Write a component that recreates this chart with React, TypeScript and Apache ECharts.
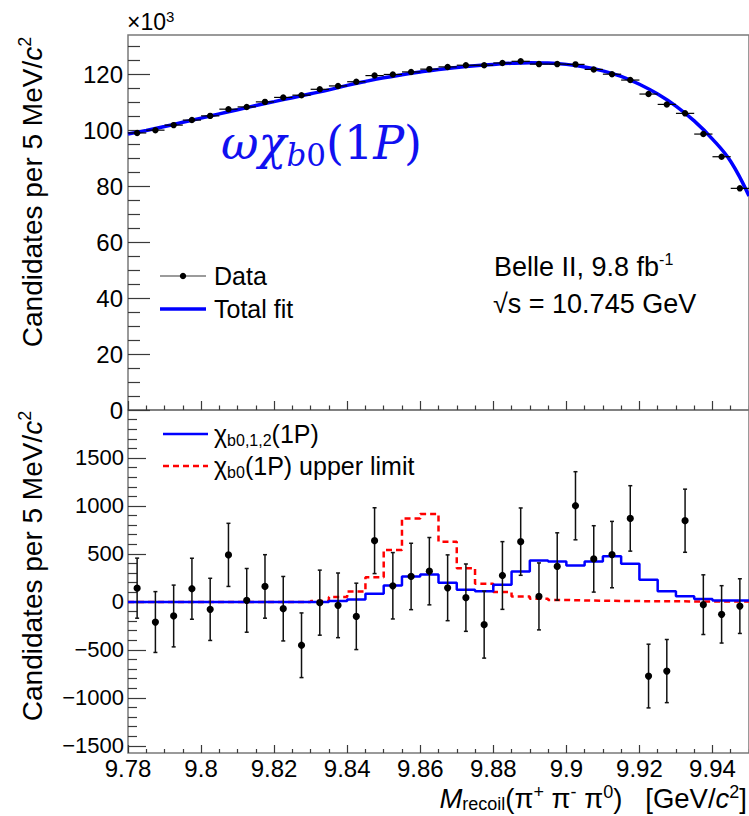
import React, { useEffect, useRef } from "react";
import * as echarts from "echarts";

// ---------- data ----------
const BIN_CENTERS = [
  9.7825, 9.7875, 9.7925, 9.7975, 9.8025, 9.8075, 9.8125, 9.8175, 9.8225, 9.8275,
  9.8325, 9.8375, 9.8425, 9.8475, 9.8525, 9.8575, 9.8625, 9.8675, 9.8725, 9.8775,
  9.8825, 9.8875, 9.8925, 9.8975, 9.9025, 9.9075, 9.9125, 9.9175, 9.9225, 9.9275,
  9.9325, 9.9375, 9.9425, 9.9475,
];
const BIN_EDGES = [
  9.78, 9.785, 9.79, 9.795, 9.8, 9.805, 9.81, 9.815, 9.82, 9.825, 9.83, 9.835, 9.84,
  9.845, 9.85, 9.855, 9.86, 9.865, 9.87, 9.875, 9.88, 9.885, 9.89, 9.895, 9.9, 9.905,
  9.91, 9.915, 9.92, 9.925, 9.93, 9.935, 9.94, 9.945, 9.95,
];
const HALF_BIN = 0.0025;

// top panel: candidates (x10^3)
const TOP_DATA = [
  99.0, 100.0, 101.8, 103.6, 105.1, 107.5, 108.3, 110.1, 111.7, 112.5, 114.6, 115.8,
  117.3, 119.5, 119.9, 120.8, 121.8, 122.6, 123.2, 123.2, 124.0, 124.6, 123.6, 123.6,
  123.5, 121.7, 120.0, 117.9, 112.9, 109.2, 106.0, 98.6, 90.5, 79.2,
];
// total fit sampled at bin edges (x10^3)
const FIT_Y = [
  98.6, 99.9, 101.3, 102.8, 104.3, 105.8, 107.3, 108.8, 110.2, 111.6, 113.0, 114.4,
  116.0, 117.4, 118.7, 119.8, 120.8, 121.7, 122.4, 123.0, 123.5, 123.9, 124.1, 124.0,
  123.5, 122.6, 121.2, 119.2, 116.4, 112.9, 108.6, 103.3, 96.8, 88.8, 76.5,
];

// bottom panel: background-subtracted candidates
const BOT_DATA = [
  143, -210, -147, 137, -78, 490, 16, 161, -71, -452, -8, -36, -151, 638, 168, 265,
  320, 147, 44, -237, 275, 628, 57, 369, 1002, 448, 493, 870, -773, -721, 846, -29,
  -130, -44,
];
const BOT_ERR = [
  313, 317, 322, 318, 324, 329, 332, 331, 336, 337, 339, 337, 346, 343, 346, 346, 351,
  343, 351, 349, 353, 351, 349, 351, 355, 346, 346, 341, 332, 329, 329, 311, 299, 285,
];
// chi_b0,1,2(1P) histogram (per bin)
const BLUE_HIST = [
  0, 0, 0, 0, 0, 0, 0, 0, 0, 0, 0, 10, 25, 85, 171, 265, 285, 199, 127, 112, 179, 317,
  431, 421, 379, 421, 475, 397, 230, 112, 60, 30, 15, 15,
];
// chi_b0(1P) upper limit histogram (per bin)
const RED_HIST = [
  0, 0, 0, 0, 0, 0, 0, 0, 0, 0, 10, 50, 109, 257, 542, 870, 916, 628, 351, 189, 102,
  57, 33, 20, 15, 12, 10, 8, 7, 6, 5, 5, 4, 4,
];

// ticks
const X_MAJOR = [9.78, 9.8, 9.82, 9.84, 9.86, 9.88, 9.9, 9.92, 9.94];
const TOP_Y_MAJOR = [0, 20, 40, 60, 80, 100, 120];
const TOP_Y_MINOR = [5, 10, 15, 25, 30, 35, 45, 50, 55, 65, 70, 75, 85, 90, 95, 105, 110, 115, 125, 130];
const BOT_Y_MAJOR = [-1500, -1000, -500, 0, 500, 1000, 1500];
const BOT_Y_MINOR = [
  -1400, -1300, -1200, -1100, -900, -800, -700, -600, -400, -300, -200, -100, 100, 200,
  300, 400, 600, 700, 800, 900, 1100, 1200, 1300, 1400, 1600, 1700, 1800, 1900,
];

const SANS = "'Liberation Sans', Arial, Helvetica, sans-serif";
const MATH = "'DejaVu Serif', 'Liberation Serif', serif";
const FRAME = "#7a7a7a";
const TICK = "#3a3a3a";
const MATH_BLUE = "#1010f0";

function tk(size: number, extra: any = {}) {
  return { fontSize: size, fontFamily: SANS, fill: "#000", ...extra };
}
function mk(size: number, italic: boolean, extra: any = {}) {
  return { fontSize: size, fontFamily: MATH, fontStyle: italic ? "italic" : "normal", fill: MATH_BLUE, ...extra };
}

function xAxis(grid: number, opts: any) {
  return {
    type: "value",
    gridIndex: grid,
    min: 9.78,
    max: 9.95,
    position: "bottom",
    splitLine: { show: false },
    axisLine: { show: false, onZero: false },
    axisLabel: { show: false },
    axisTick: { show: false },
    ...opts,
  };
}
function yAxis(grid: number, min: number, max: number, opts: any) {
  return {
    type: "value",
    gridIndex: grid,
    min,
    max,
    position: "left",
    splitLine: { show: false },
    axisLine: { show: false, onZero: false },
    axisLabel: { show: false },
    axisTick: { show: false },
    ...opts,
  };
}

function stepData(hist: number[]) {
  const d: number[][] = hist.map((v, i) => [BIN_EDGES[i], v]);
  d.push([BIN_EDGES[hist.length], hist[hist.length - 1]]);
  return d;
}

const xMinor = BIN_EDGES.filter((e) => !X_MAJOR.some((m) => Math.abs(m - e) < 1e-6));

export default function App() {
  const ref = useRef<HTMLDivElement>(null);
  useEffect(() => {
    if (!ref.current) return;
    const chart = echarts.init(ref.current, null, { renderer: "svg" });

    const option: any = {
      animation: false,
      backgroundColor: "#fff",
      grid: [
        { left: 128, top: 35, right: -3, height: 375, show: true, borderColor: FRAME, borderWidth: 1.5, backgroundColor: "transparent" },
        { left: 128, top: 410, right: -3, height: 343, show: true, borderColor: FRAME, borderWidth: 1.5, backgroundColor: "transparent" },
      ],
      xAxis: [
        xAxis(0, { axisTick: { show: true, inside: true, length: 9, customValues: X_MAJOR, lineStyle: { color: TICK, width: 1.2 } } }),
        xAxis(0, { axisTick: { show: true, inside: true, length: 4.5, customValues: xMinor, lineStyle: { color: TICK, width: 1.2 } } }),
        xAxis(1, {
          axisTick: { show: true, inside: true, length: 8, customValues: X_MAJOR, lineStyle: { color: TICK, width: 1.2 } },
          axisLabel: {
            show: true,
            customValues: X_MAJOR,
            margin: 3,
            fontSize: 24,
            fontFamily: SANS,
            color: "#000",
            formatter: (v: number) => String(Number(v.toFixed(2))),
          },
        }),
        xAxis(1, { axisTick: { show: true, inside: true, length: 4, customValues: xMinor, lineStyle: { color: TICK, width: 1.2 } } }),
      ],
      yAxis: [
        yAxis(0, 0, 134, {
          axisTick: { show: true, inside: true, length: 22, customValues: TOP_Y_MAJOR, lineStyle: { color: TICK, width: 1.2 } },
          axisLabel: { show: true, customValues: TOP_Y_MAJOR, margin: 5, fontSize: 24, fontFamily: SANS, color: "#000" },
        }),
        yAxis(0, 0, 134, {
          axisTick: { show: true, inside: true, length: 12, customValues: TOP_Y_MINOR, lineStyle: { color: TICK, width: 1.2 } },
        }),
        yAxis(1, -1575, 2000, {
          axisTick: { show: true, inside: true, length: 18, customValues: BOT_Y_MAJOR, lineStyle: { color: TICK, width: 1.2 } },
          axisLabel: {
            show: true,
            customValues: BOT_Y_MAJOR,
            margin: 4,
            fontSize: 22,
            fontFamily: SANS,
            color: "#000",
            formatter: (v: number) => (v < 0 ? "\u2212" + Math.abs(v) : String(v)),
          },
        }),
        yAxis(1, -1575, 2000, {
          axisTick: { show: true, inside: true, length: 9, customValues: BOT_Y_MINOR, lineStyle: { color: TICK, width: 1.2 } },
        }),
      ],
      series: [
        {
          name: "Total fit",
          type: "line",
          xAxisIndex: 0,
          yAxisIndex: 0,
          data: BIN_EDGES.map((x, i) => [x, FIT_Y[i]]),
          smooth: 0.4,
          showSymbol: false,
          symbol: "none",
          lineStyle: { color: "#0000ff", width: 3.5 },
          z: 2,
        },
        {
          name: "Data",
          type: "custom",
          xAxisIndex: 0,
          yAxisIndex: 0,
          clip: true,
          z: 3,
          data: BIN_CENTERS.map((x, i) => [x, TOP_DATA[i]]),
          renderItem: (_p: any, api: any) => {
            const x = api.value(0);
            const y = api.value(1);
            const c = api.coord([x, y]);
            const l = api.coord([x - HALF_BIN, y]);
            const r = api.coord([x + HALF_BIN, y]);
            return {
              type: "group",
              children: [
                { type: "line", shape: { x1: l[0], y1: c[1], x2: r[0], y2: c[1] }, style: { stroke: "#000", lineWidth: 1.2 } },
                { type: "circle", shape: { cx: c[0], cy: c[1], r: 3.2 }, style: { fill: "#000" } },
              ],
            };
          },
        },
        {
          name: "upper limit",
          type: "line",
          xAxisIndex: 2,
          yAxisIndex: 2,
          step: "end",
          data: stepData(RED_HIST),
          showSymbol: false,
          symbol: "none",
          lineStyle: { color: "#ff0000", width: 2.5, type: [6, 4] },
          z: 2,
        },
        {
          name: "chib012",
          type: "line",
          xAxisIndex: 2,
          yAxisIndex: 2,
          step: "end",
          data: stepData(BLUE_HIST),
          showSymbol: false,
          symbol: "none",
          lineStyle: { color: "#0000ff", width: 2.5 },
          z: 3,
        },
        {
          name: "Data2",
          type: "custom",
          xAxisIndex: 2,
          yAxisIndex: 2,
          clip: true,
          z: 4,
          data: BIN_CENTERS.map((x, i) => [x, BOT_DATA[i], BOT_ERR[i]]),
          renderItem: (_p: any, api: any) => {
            const x = api.value(0);
            const y = api.value(1);
            const e = api.value(2);
            const c = api.coord([x, y]);
            const t = api.coord([x, y + e]);
            const b = api.coord([x, y - e]);
            const s = { stroke: "#111", lineWidth: 1.5 };
            return {
              type: "group",
              children: [
                { type: "line", shape: { x1: c[0], y1: t[1], x2: c[0], y2: b[1] }, style: s },
                { type: "line", shape: { x1: c[0] - 2, y1: t[1], x2: c[0] + 2, y2: t[1] }, style: s },
                { type: "line", shape: { x1: c[0] - 2, y1: b[1], x2: c[0] + 2, y2: b[1] }, style: s },
                { type: "circle", shape: { cx: c[0], cy: c[1], r: 3.6 }, style: { fill: "#000" } },
              ],
            };
          },
        },
      ],
      graphic: {
        elements: [
          // x10^3
          {
            type: "text",
            x: 127,
            y: 22,
            style: {
              text: "{n|\u00d710}{s|3}",
              verticalAlign: "middle",
              align: "left",
              rich: {
                n: tk(23, { lineHeight: 26 }),
                s: tk(15, { lineHeight: 14, verticalAlign: "top" }),
              },
            },
          },
          // y titles
          {
            type: "text",
            x: 32,
            y: 192,
            rotation: Math.PI / 2,
            style: {
              text: "{n|Candidates per 5 MeV/}{i|c}{s|2}",
              align: "center",
              verticalAlign: "middle",
              rich: {
                n: tk(28, { lineHeight: 32 }),
                i: tk(28, { lineHeight: 32, fontStyle: "italic" }),
                s: tk(18, { lineHeight: 18, verticalAlign: "top" }),
              },
            },
          },
          {
            type: "text",
            x: 32,
            y: 566,
            rotation: Math.PI / 2,
            style: {
              text: "{n|Candidates per 5 MeV/}{i|c}{s|2}",
              align: "center",
              verticalAlign: "middle",
              rich: {
                n: tk(28, { lineHeight: 32 }),
                i: tk(28, { lineHeight: 32, fontStyle: "italic" }),
                s: tk(18, { lineHeight: 18, verticalAlign: "top" }),
              },
            },
          },
          // top legend
          { type: "line", shape: { x1: 160, y1: 276, x2: 206, y2: 276 }, style: { stroke: "#7a7a7a", lineWidth: 1.5 } },
          { type: "circle", shape: { cx: 183, cy: 276, r: 3.2 }, style: { fill: "#000" } },
          { type: "text", x: 214, y: 276, style: { text: "Data", verticalAlign: "middle", ...tk(25) } },
          { type: "line", shape: { x1: 160, y1: 309, x2: 206, y2: 309 }, style: { stroke: "#0000ff", lineWidth: 3.5 } },
          { type: "text", x: 214, y: 309, style: { text: "Total fit", verticalAlign: "middle", ...tk(25) } },
          // Belle II
          {
            type: "text",
            x: 494,
            y: 267,
            style: {
              text: "{n|Belle II, 9.8 fb}{s|-1}",
              verticalAlign: "middle",
              rich: { n: tk(27, { lineHeight: 32 }), s: tk(16, { lineHeight: 16, verticalAlign: "top" }) },
            },
          },
          { type: "text", x: 493, y: 304, style: { text: "\u221As = 10.745 GeV", verticalAlign: "middle", ...tk(27) } },
          // omega chi_b0(1P)
          {
            type: "text",
            x: 221,
            y: 143,
            style: {
              text: "{i|\u03c9\u03c7}{si|b}{su|0}{u|(1}{i|P}{u|)}",
              verticalAlign: "middle",
              rich: {
                i: mk(46, true, { lineHeight: 54 }),
                u: mk(46, false, { lineHeight: 54 }),
                si: mk(31, true, { lineHeight: 32, verticalAlign: "bottom" }),
                su: mk(31, false, { lineHeight: 32, verticalAlign: "bottom" }),
              },
            },
          },
          // bottom legend
          { type: "line", shape: { x1: 163, y1: 434, x2: 208, y2: 434 }, style: { stroke: "#0000ff", lineWidth: 2.5 } },
          {
            type: "text",
            x: 214,
            y: 434,
            style: {
              text: "{n|\u03c7}{b|b0,1,2}{n|(1P)}",
              verticalAlign: "middle",
              rich: { n: tk(25, { lineHeight: 28 }), b: tk(16, { lineHeight: 13, verticalAlign: "bottom" }) },
            },
          },
          { type: "line", shape: { x1: 163, y1: 466, x2: 208, y2: 466 }, style: { stroke: "#ff0000", lineWidth: 2.5, lineDash: [6, 4] } },
          {
            type: "text",
            x: 214,
            y: 466,
            style: {
              text: "{n|\u03c7}{b|b0}{n|(1P) upper limit}",
              verticalAlign: "middle",
              rich: { n: tk(25, { lineHeight: 28 }), b: tk(16, { lineHeight: 13, verticalAlign: "bottom" }) },
            },
          },
          // x axis title
          {
            type: "text",
            x: 747,
            y: 798,
            style: {
              text: "{i|M}{sub|recoil}{n|(\u03c0}{sup|+}{n| \u03c0}{sup|-}{n| \u03c0}{sup|0}{n|)   [GeV/}{i|c}{sup|2}{n|]}",
              align: "right",
              verticalAlign: "middle",
              rich: {
                n: tk(27.5, { lineHeight: 30 }),
                i: tk(27.5, { lineHeight: 30, fontStyle: "italic" }),
                sub: tk(18, { lineHeight: 12, verticalAlign: "bottom" }),
                sup: tk(18, { lineHeight: 14, verticalAlign: "top" }),
              },
            },
          },
        ],
      },
    };

    chart.setOption(option);
    return () => chart.dispose();
  }, []);

  return (
    <div
      ref={ref}
      style={{ position: "absolute", left: 0, top: 0, width: 749, height: 816, background: "#fff" }}
    />
  );
}
